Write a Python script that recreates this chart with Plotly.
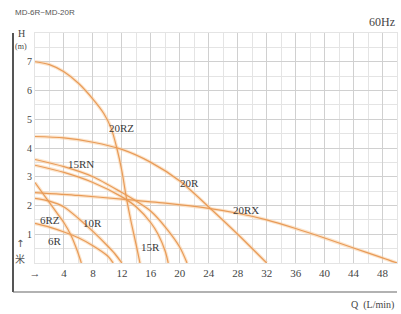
import plotly.graph_objects as go

# ---- data ----
q_20rz = [0, 2, 4, 6, 8, 9.5, 10.5, 11.3, 12.0, 12.6, 13.3, 14.0, 14.5]
h_20rz = [7.0, 6.9, 6.65, 6.25, 5.7, 5.2, 4.7, 4.0, 3.2, 2.3, 1.4, 0.6, 0.0]

q_20r = [0, 4, 8, 12, 16, 20, 24, 28, 32]
h_20r = [4.4, 4.35, 4.2, 3.95, 3.5, 2.85, 1.95, 1.0, 0.0]

q_20rx = [0, 6, 12, 18, 24, 28, 32, 36, 40, 44, 48, 50]
h_20rx = [2.45, 2.35, 2.22, 2.08, 1.9, 1.73, 1.5, 1.2, 0.87, 0.52, 0.18, 0.0]

q_15rn = [0, 4, 8, 12, 14, 16, 18, 20, 21]
h_15rn = [3.6, 3.35, 3.0, 2.45, 2.15, 1.8, 1.25, 0.55, 0.0]

q_15r = [0, 4, 8, 12, 14, 16, 17, 18, 18.4]
h_15r = [3.4, 3.15, 2.8, 2.3, 1.95, 1.4, 1.0, 0.4, 0.0]

q_10r = [0, 2, 4, 6, 8, 10, 11, 12]
h_10r = [2.25, 2.15, 1.95, 1.55, 1.1, 0.6, 0.33, 0.0]

q_6rz = [0, 1, 2, 3, 4, 5, 5.8, 6.4]
h_6rz = [2.8, 2.45, 2.1, 1.75, 1.4, 0.95, 0.45, 0.0]

q_6r = [0, 2, 4, 6, 8, 10, 10.8]
h_6r = [1.38, 1.25, 1.08, 0.88, 0.6, 0.25, 0.0]

series = [
    ("20RZ", q_20rz, h_20rz),
    ("20R", q_20r, h_20r),
    ("20RX", q_20rx, h_20rx),
    ("15RN", q_15rn, h_15rn),
    ("15R", q_15r, h_15r),
    ("10R", q_10r, h_10r),
    ("6RZ", q_6rz, h_6rz),
    ("6R", q_6r, h_6r),
]

# curve labels (Q, H)
label_names = ["20RZ", "15RN", "20R", "20RX", "10R", "6RZ", "6R", "15R"]
label_q = [12.0, 6.35, 21.3, 29.2, 8.0, 2.1, 2.8, 16.0]
label_h = [4.7, 3.45, 2.78, 1.83, 1.39, 1.5, 0.78, 0.56]

x_tickvals = [0, 4, 8, 12, 16, 20, 24, 28, 32, 36, 40, 44, 48]
x_ticktext = ["→", "4", "8", "12", "16", "20", "24", "28", "32", "36", "40", "44", "48"]
y_tickvals = [1, 2, 3, 4, 5, 6, 7]
y_ticktext = ["1", "2", "3", "4", "5", "6", "7"]

SERIF = "Liberation Serif, Times New Roman, serif"
fig = go.Figure()

for name, q, h in series:
    fig.add_trace(go.Scatter(x=q, y=h, mode="lines",
                             line=dict(color="rgba(250,205,160,0.55)", width=3.5, shape="spline", smoothing=0.8),
                             hoverinfo="skip", showlegend=False))
for name, q, h in series:
    fig.add_trace(go.Scatter(x=q, y=h, mode="lines", name=name,
                             line=dict(color="rgb(232,155,88)", width=1.2, shape="spline", smoothing=0.8),
                             showlegend=False))

for n, lq, lh in zip(label_names, label_q, label_h):
    fig.add_annotation(x=lq, y=lh, text=n, showarrow=False, xref="x", yref="y",
                       font=dict(family=SERIF, size=11, color="#3a3a3a"))

grid_major = "#d0d0d0"
grid_minor = "#e4e4e4"
fig.update_xaxes(range=[0, 50], tickvals=x_tickvals, ticktext=x_ticktext,
                 showgrid=True, gridcolor=grid_major, gridwidth=1, zeroline=False,
                 minor=dict(dtick=2, tick0=0, showgrid=True, gridcolor=grid_minor),
                 showline=True, linecolor=grid_minor, mirror=True,
                 tickfont=dict(family=SERIF, size=11, color="#444"), ticks="", ticklabelstandoff=0)
fig.update_yaxes(range=[0, 8], tickvals=y_tickvals, ticktext=y_ticktext,
                 showgrid=True, gridcolor=grid_major, gridwidth=1, zeroline=False,
                 minor=dict(dtick=0.5, tick0=0, showgrid=True, gridcolor=grid_minor),
                 showline=True, linecolor=grid_minor, mirror=True,
                 tickfont=dict(family=SERIF, size=10, color="#444"), ticks="")

W, H = 401, 314
L, R, T, B = 35, 4, 33, 51
pw, ph = W - L - R, H - T - B
def px(x): return (x - L) / pw
def py(y): return (H - B - y) / ph

ann = [
    ("MD-6R~MD-20R", 13, 12, "left", dict(family="Liberation Sans, Arial, sans-serif", size=8, color="#555")),
    ("60Hz", 397, 22, "right", dict(family=SERIF, size=12, color="#444")),
    ("H", 21, 34, "center", dict(family=SERIF, size=10, color="#444")),
    ("(m)", 21, 46, "center", dict(family=SERIF, size=8, color="#444")),
    ("↑", 20, 243, "center", dict(family="DejaVu Sans", size=10, color="#555")),
    ("米", 20, 258, "center", dict(family="Noto Sans CJK SC", size=10, color="#555")),
    ("Q  (L/min)", 396, 305, "right", dict(family=SERIF, size=10, color="#444")),
]
for t, x, y, xa, f in ann:
    fig.add_annotation(x=px(x), y=py(y), xref="paper", yref="paper", text=t, showarrow=False,
                       xanchor=xa, yanchor="middle", font=f)

fig.add_shape(type="line", xref="paper", yref="paper", x0=px(13), x1=px(13), y0=py(33), y1=py(292),
              line=dict(color="#555", width=2))
fig.add_shape(type="line", xref="paper", yref="paper", x0=px(13), x1=px(397), y0=py(292), y1=py(292),
              line=dict(color="#666", width=1.2))

fig.update_layout(width=W, height=H, margin=dict(l=L, r=R, t=T, b=B),
                  paper_bgcolor="white", plot_bgcolor="white", showlegend=False)
fig.write_html("out.html", config={"displayModeBar": False},
               post_script="document.body.style.margin='0';document.body.style.overflow='hidden';")
